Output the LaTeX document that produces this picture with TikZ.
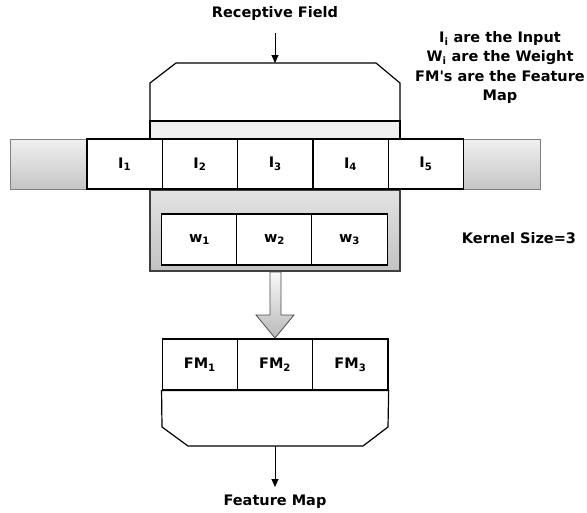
\documentclass[tikz,border=0pt]{standalone}
\usepackage{fontspec}
\setmainfont{DejaVu Sans}
\usetikzlibrary{positioning,arrows.meta}

\begin{document}
\begin{tikzpicture}[x=1pt,y=-1pt,
    every node/.style={font=\fontsize{14.5}{19.5}\selectfont\bfseries},
    cell/.style={draw,line width=1.2pt,fill=white,minimum width=75.3pt,minimum height=50pt,inner sep=0pt},
    padbox/.style={draw=gray,line width=1pt,top color=gray!12,bottom color=gray!45,minimum width=77pt,minimum height=50pt},
    kernelbox/.style={draw=black!75,line width=1.8pt,top color=gray!22,bottom color=gray!48,minimum width=250pt,minimum height=81pt},
    label/.style={inner sep=2pt},
    thinarrow/.style={-{Triangle[length=8pt,width=7pt]},line width=0.9pt}]
    \useasboundingbox (0,0) rectangle (587,512);

    % receptive field box
    \draw[line width=1.2pt,fill=white] (150,121)--(150,83)--(176,63)--(376,63)--(400,83)--(400,121)--cycle;
    \draw[line width=1.2pt,fill=gray!12] (150,121) rectangle (400,139);
    \coordinate (rftop) at (275,63);

    % kernel
    \node[kernelbox] (kbox) at (275,230.5) {};
    \foreach \n in {1,2,3}
        \node[cell,minimum height=51pt] (w\n) at ({124.5+75*\n},239.5) {w\textsubscript{\n}};

    % input row
    \node[padbox] (lpad) at (48.5,164) {};
    \node[padbox] (rpad) at (501.5,164) {};
    \foreach \n in {1,...,5}
        \node[cell] (i\n) at ({49.35+75.3*\n},164) {I\textsubscript{\n}};

    % feature map
    \foreach \n in {1,2,3}
        \node[cell,minimum height=51pt] (fm\n) at ({124.5+75.3*\n},364.5) {FM\textsubscript{\n}};
    \draw[line width=1.2pt,fill=white] (fm1.south west)--(162,427)--(188,446)--(363,446)--(388,427)--(fm3.south east)--cycle;
    \coordinate (fmbot) at (275,446);

    % block arrow
    \draw[line width=0.8pt,draw=black!70,top color=gray!5,bottom color=gray!55]
        (270,272)--(270,315)--(256,315)--(275,338)--(294,315)--(281,315)--(281,272)--cycle;

    % labels
    \node[label] (rf) at (275,13) {Receptive Field};
    \node[label] (fmap) at (275,502) {Feature Map};
    \node[label] (ksize) at (519,238) {Kernel Size=3};
    \node[label,align=center] (legend) at (500,67.5) {I\textsubscript{i} are the Input\\W\textsubscript{i} are the Weight\\FM\textquotesingle s are the Feature\\Map};

    \draw[thinarrow,shorten <=11pt] (rf) -- (rftop);
    \draw[thinarrow,shorten >=6pt] (fmbot) -- (fmap);
\end{tikzpicture}
\end{document}
